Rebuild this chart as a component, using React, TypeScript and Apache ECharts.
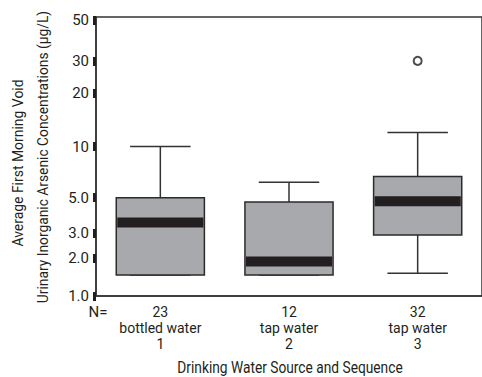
import React, { useEffect, useRef } from "react";
import * as echarts from "echarts";

// ---- data ----
const groupCounts = [23, 12, 32];
const groupSources = ["bottled water", "tap water", "tap water"];
const groupSequence = ["1", "2", "3"];
const lowerWhisker = [1.5, 1.5, 1.55];
const quartile1 = [1.5, 1.5, 2.9];
const medians = [3.5, 1.9, 4.75];
const quartile3 = [5.0, 4.7, 6.7];
const upperWhisker = [10, 6.2, 12];
const outlierGroup = [2];
const outlierValue = [30];
const yTicks = [1, 2, 3, 5, 10, 20, 30, 50];
const yTickLabels = ["1.0", "2.0", "3.0", "5.0", "10", "20", "30", "50"];
const yMin = 1;
const yMax = 52;

// axis transform: log10(value + offset)
const SCALE_OFFSET = 0.7;
const tf = (v: number) => Math.log10(v + SCALE_OFFSET);

const FONT = "Roboto, 'Liberation Sans', sans-serif";
const INK = "#231f20";

export default function App() {
  const ref = useRef<HTMLDivElement>(null);
  useEffect(() => {
    if (!ref.current) return;
    const chart = echarts.init(ref.current, undefined, { renderer: "svg" });
    const categories = groupCounts.map(
      (n, i) => `${n}\n${groupSources[i]}\n${groupSequence[i]}`
    );
    const boxData = groupCounts.map((_, i) => [
      i,
      tf(lowerWhisker[i]),
      tf(quartile1[i]),
      tf(medians[i]),
      tf(quartile3[i]),
      tf(upperWhisker[i]),
    ]);
    const tickT = yTicks.map(tf);
    const option: any = {
      animation: false,
      grid: {
        left: 96,
        width: 394,
        top: 17,
        bottom: 81,
        show: true,
        borderColor: "#333",
        borderWidth: 1.5,
        backgroundColor: "transparent",
      },
      xAxis: {
        type: "category",
        data: categories,
        axisLine: { show: true, lineStyle: { color: "#333", width: 1.5 } },
        axisTick: { show: false },
        splitLine: { show: false },
        axisLabel: {
          fontFamily: FONT,
          fontSize: 14,
          lineHeight: 16,
          color: INK,
          margin: 8,
          interval: 0,
        },
      },
      yAxis: {
        type: "value",
        min: tf(yMin),
        max: tf(yMax),
        splitLine: { show: false },
        axisLine: { show: true, lineStyle: { color: "#333", width: 1.5 } },
        axisTick: {
          show: true,
          customValues: tickT,
          length: 3,
          inside: false,
          lineStyle: { color: INK, width: 9 },
        },
        axisLabel: {
          customValues: tickT,
          margin: 7,
          fontFamily: FONT,
          fontSize: 15,
          color: INK,
          formatter: (val: number) => {
            let best = 0;
            let bd = Infinity;
            tickT.forEach((t, i) => {
              const d = Math.abs(t - val);
              if (d < bd) {
                bd = d;
                best = i;
              }
            });
            return yTickLabels[best];
          },
        },
      },
      series: [
        {
          type: "custom",
          data: boxData,
          encode: { x: 0, y: [1, 2, 3, 4, 5] },
          renderItem: (params: any, api: any) => {
            const idx = api.value(0);
            const lo = api.coord([idx, api.value(1)]);
            const q1 = api.coord([idx, api.value(2)]);
            const md = api.coord([idx, api.value(3)]);
            const q3 = api.coord([idx, api.value(4)]);
            const hi = api.coord([idx, api.value(5)]);
            const band = api.size([1, 0])[0];
            const bw = band * 0.685;
            const cw = band * 0.47;
            const cx = q1[0];
            const lineStyle = { stroke: "#333", lineWidth: 1.5 };
            return {
              type: "group",
              children: [
                {
                  type: "line",
                  shape: { x1: cx, y1: q3[1], x2: cx, y2: hi[1] },
                  style: lineStyle,
                },
                {
                  type: "line",
                  shape: { x1: cx - cw / 2, y1: hi[1], x2: cx + cw / 2, y2: hi[1] },
                  style: lineStyle,
                },
                {
                  type: "line",
                  shape: { x1: cx, y1: q1[1], x2: cx, y2: lo[1] },
                  style: lineStyle,
                },
                {
                  type: "line",
                  shape: { x1: cx - cw / 2, y1: lo[1], x2: cx + cw / 2, y2: lo[1] },
                  style: lineStyle,
                },
                {
                  type: "rect",
                  shape: { x: cx - bw / 2, y: q3[1], width: bw, height: q1[1] - q3[1] },
                  style: { fill: "#a7a9ac", stroke: "#2b2b2b", lineWidth: 1.5 },
                },
                {
                  type: "rect",
                  shape: { x: cx - bw / 2 + 1, y: md[1] - 5, width: bw - 2, height: 10 },
                  style: { fill: INK },
                },
              ],
            };
          },
        },
        {
          type: "scatter",
          data: outlierGroup.map((g, i) => [g, tf(outlierValue[i])]),
          symbol: "circle",
          symbolSize: 8,
          itemStyle: { color: "#fff", borderColor: INK, borderWidth: 2 },
        },
      ],
      graphic: [
        {
          type: "text",
          x: 18,
          y: 163,
          rotation: Math.PI / 2,
          scaleX: 0.93,
          style: {
            text: "Average First Morning Void",
            font: `15px ${FONT}`,
            fill: INK,
            align: "center",
            verticalAlign: "middle",
          },
        },
        {
          type: "text",
          x: 43,
          y: 157,
          rotation: Math.PI / 2,
          scaleX: 0.92,
          style: {
            text: "Urinary Inorganic Arsenic Concentrations (μg/L)",
            font: `15px ${FONT}`,
            fill: INK,
            align: "center",
            verticalAlign: "middle",
          },
        },
        {
          type: "text",
          x: 98,
          y: 312,
          style: {
            text: "N=",
            font: `15px ${FONT}`,
            fill: INK,
            align: "center",
            verticalAlign: "middle",
          },
        },
        {
          type: "text",
          x: 290,
          y: 368,
          scaleX: 0.86,
          style: {
            text: "Drinking Water Source and Sequence",
            font: `16px ${FONT}`,
            fill: INK,
            align: "center",
            verticalAlign: "middle",
          },
        },
      ],
    };
    chart.setOption(option);
    return () => chart.dispose();
  }, []);
  return (
    <div
      ref={ref}
      style={{ position: "fixed", left: 0, top: 0, width: 482, height: 377, background: "#fff" }}
    />
  );
}
